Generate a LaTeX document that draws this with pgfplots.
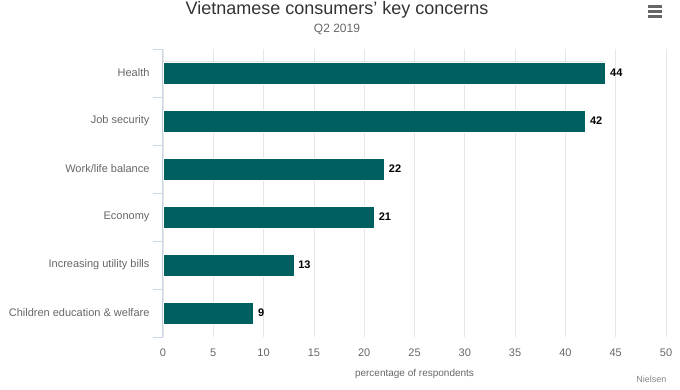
\documentclass[border=0pt]{standalone}
\usepackage{pgfplots}
\pgfplotsset{compat=1.18}
\usepackage{fontspec}
\setmainfont{Liberation Sans}
\definecolor{barteal}{HTML}{005F5F}
\definecolor{axisblue}{HTML}{CCD6EB}
\definecolor{gridgray}{HTML}{E6E6E6}
\definecolor{txtgray}{HTML}{666666}
\definecolor{titlegray}{HTML}{333333}
\begin{document}
\begin{tikzpicture}[x=1pt,y=1pt]
\path[use as bounding box] (0,0) rectangle (680,390);
\node[font=\fontsize{18}{21}\selectfont, text=titlegray] at (337,380.5) {Vietnamese consumers' key concerns};
\node[font=\fontsize{12}{14}\selectfont, text=txtgray] at (337,361) {Q2 2019};
\foreach \yy in {373,378,383} {\fill[txtgray] (648,\yy-1.5) rectangle (662,\yy+1.5);}
\begin{axis}[
  at={(163pt,53pt)}, anchor=south west,
  scale only axis, width=503pt, height=288pt,
  xbar, bar width=22pt,
  xmin=0, xmax=50,
  ymin=-0.5, ymax=5.5, y dir=reverse,
  xtick={0,5,...,50},
  ytick={0,...,5},
  ytick pos=left,
  yticklabels={Health,Job security,Work/life balance,Economy,Increasing utility bills,Children education \& welfare},
  minor ytick={-0.5,0.5,...,5.5},
  major tick length=0pt,
  minor tick length=10pt,
  tick align=outside,
  minor tick style={color=axisblue, line width=1pt},
  xtick style={draw=none},
  axis line style={draw=none},
  xmajorgrids, major grid style={color=gridgray, line width=0.8pt},
  extra x ticks={0}, extra x tick labels={},
  extra x tick style={grid=major, major grid style={color=axisblue, line width=1pt}},
  yticklabel style={font=\fontsize{11}{13}\selectfont, text=txtgray, xshift=-10pt},
  xticklabel style={font=\fontsize{11}{13}\selectfont, text=txtgray, yshift=-8pt},
  /pgf/number format/assume math mode=true,
  xlabel={percentage of respondents},
  xlabel style={font=\fontsize{10}{12}\selectfont, text=txtgray, yshift=-6pt},
  nodes near coords,
  point meta=x,
  every node near coord/.append style={font=\bfseries\fontsize{11}{13}\selectfont, text=black, anchor=west, xshift=1pt},
  clip=false,
]
\addplot[fill=barteal, draw=white, line width=0.5pt] coordinates {(44,0) (42,1) (22,2) (21,3) (13,4) (9,5)};
\end{axis}
\node[font=\fontsize{9}{11}\selectfont, text=txtgray!80, anchor=east] at (670,11) {Nielsen};
\end{tikzpicture}
\end{document}
